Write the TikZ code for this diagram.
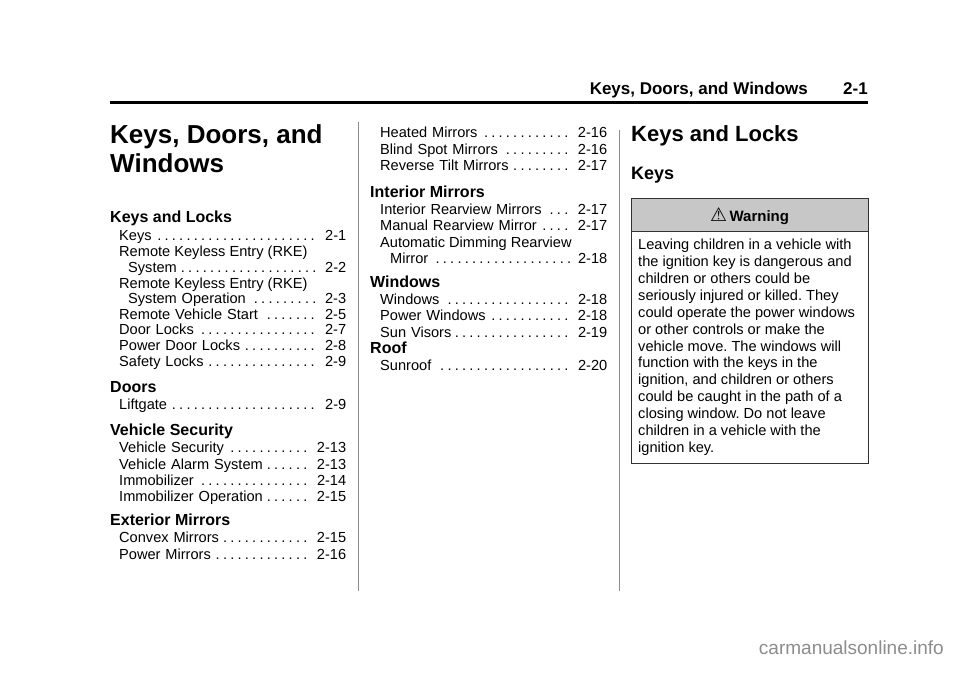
\documentclass[tikz,border=0pt]{standalone}
\usepackage{fontspec}
\setmainfont{Liberation Sans}
\newfontfamily\symfont{DejaVu Sans}
\frenchspacing
\newcommand{\dleaders}{\leaders\hbox to 0.5em{\hss.\hss}\hfill}
\newcommand{\tocentry}[6]{\node[tocitem, text width=#4pt] (#1) at (#2,#3) {#5\dleaders\,#6};}
\newcommand{\tocplain}[4]{\node[tocitem] (#1) at (#2,#3) {#4};}
\begin{document}
\begin{tikzpicture}[x=1pt,y=-1pt,
  tocitem/.style={anchor=mid west, inner sep=0pt, font=\fontsize{14.6}{16}\selectfont, align=left},
  sechead/.style={anchor=mid west, inner sep=0pt, font=\fontsize{16}{18}\selectfont\bfseries},
  bodyline/.style={anchor=mid west, inner sep=0pt, font=\fontsize{14.6}{16}\selectfont},
  sep/.style={draw=black!45, line width=1pt}]
\useasboundingbox (0,0) rectangle (960,672);
% header
\node[anchor=mid east, inner sep=0pt, font=\fontsize{17}{19}\selectfont\bfseries] (hdr) at (808,92) {Keys, Doors, and Windows};
\node[anchor=mid east, inner sep=0pt, font=\fontsize{17}{19}\selectfont\bfseries] (pg) at (868,92) {2-1};
\coordinate (r1) at (110,102.5); \coordinate (r2) at (868,102.5);
\draw[line width=3pt] (r1) -- (r2);
% separators
\coordinate (s1a) at (358,122); \coordinate (s1b) at (358,591);
\coordinate (s2a) at (619,130); \coordinate (s2b) at (619,591);
\draw[sep] (s1a) -- (s1b);
\draw[sep] (s2a) -- (s2b);
% title
\node[anchor=mid west, inner sep=0pt, font=\fontsize{26}{30}\selectfont\bfseries] (ti1) at (110,141) {Keys, Doors, and};
\node[anchor=mid west, inner sep=0pt, font=\fontsize{26}{30}\selectfont\bfseries] (ti2) at (110,170) {Windows};
% column 1
\node[sechead] (h1) at (110,220) {Keys and Locks};
\tocentry{a1}{119}{238}{227}{Keys}{2-1}
\tocplain{a2}{119}{254}{Remote Keyless Entry (RKE)}
\tocentry{a3}{128}{270}{218}{System}{2-2}
\tocplain{a4}{119}{285.5}{Remote Keyless Entry (RKE)}
\tocentry{a5}{128}{301}{218}{System Operation}{2-3}
\tocentry{a6}{119}{316.5}{227}{Remote Vehicle Start}{2-5}
\tocentry{a7}{119}{332}{227}{Door Locks}{2-7}
\tocentry{a8}{119}{348}{227}{Power Door Locks}{2-8}
\tocentry{a9}{119}{364}{227}{Safety Locks}{2-9}
\node[sechead] (h2) at (110,390) {Doors};
\tocentry{b1}{119}{407}{227}{Liftgate}{2-9}
\node[sechead] (h3) at (110,433) {Vehicle Security};
\tocentry{c1}{119}{450}{227}{Vehicle Security}{2-13}
\tocentry{c2}{119}{466.5}{227}{Vehicle Alarm System}{2-13}
\tocentry{c3}{119}{483}{227}{Immobilizer}{2-14}
\tocentry{c4}{119}{499}{227}{Immobilizer Operation}{2-15}
\node[sechead] (h4) at (110,523) {Exterior Mirrors};
\tocentry{d1}{119}{540}{227}{Convex Mirrors}{2-15}
\tocentry{d2}{119}{556.5}{227}{Power Mirrors}{2-16}
% column 2
\tocentry{e1}{380}{135}{227}{Heated Mirrors}{2-16}
\tocentry{e2}{380}{152}{227}{Blind Spot Mirrors}{2-16}
\tocentry{e3}{380}{168}{227}{Reverse Tilt Mirrors}{2-17}
\node[sechead] (h5) at (370,195) {Interior Mirrors};
\tocentry{f1}{380}{212}{227}{Interior Rearview Mirrors}{2-17}
\tocentry{f2}{380}{228}{227}{Manual Rearview Mirror}{2-17}
\tocplain{f3}{380}{244.5}{Automatic Dimming Rearview}
\tocentry{f4}{390}{260.5}{217}{Mirror}{2-18}
\node[sechead] (h6) at (370,285) {Windows};
\tocentry{g1}{380}{302}{227}{Windows}{2-18}
\tocentry{g2}{380}{318}{227}{Power Windows}{2-18}
\tocentry{g3}{380}{334.5}{227}{Sun Visors}{2-19}
\node[sechead] (h7) at (370,351) {Roof};
\tocentry{k1}{380}{368}{227}{Sunroof}{2-20}
% column 3
\node[anchor=mid west, inner sep=0pt, font=\fontsize{22}{24}\selectfont\bfseries] (h8) at (631,139) {Keys and Locks};
\node[anchor=mid west, inner sep=0pt, font=\fontsize{18}{20}\selectfont\bfseries] (h9) at (631,177) {Keys};
\draw[fill=black!22, line width=0.8pt, draw=black!80] (631,198) rectangle (868,231);
\draw[line width=0.8pt, draw=black!80] (631,231) rectangle (868,463);
\node[inner sep=0pt, font=\fontsize{15}{16}\selectfont\bfseries] (warn) at (749.5,216) {\raisebox{0.5pt}{\symfont\mdseries\fontsize{19}{20}\selectfont ⚠}\,Warning};
\foreach \t [count=\i] in {Leaving children in a vehicle with,the ignition key is dangerous and,children or others could be,seriously injured or killed. They,could operate the power windows,or other controls or make the,vehicle move. The windows will,function with the keys in the,{ignition, and children or others},could be caught in the path of a,closing window. Do not leave,children in a vehicle with the,ignition key.}
  \node[bodyline] (w\i) at (638,{247+(\i-1)*16.9}) {\t};
% watermark
\node[anchor=mid east, inner sep=0pt, font=\fontsize{19}{20}\selectfont, text=black!45] (wm) at (944,652) {carmanualsonline.info};
\end{tikzpicture}
\end{document}
